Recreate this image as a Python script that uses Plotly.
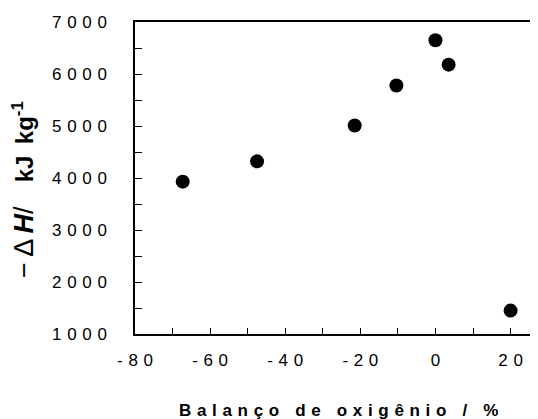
import plotly.graph_objects as go

oxygen_balance = [-67.3, -47.5, -21.5, -10.4, 0.0, 3.5, 20.0]
enthalpy = [3930, 4320, 5010, 5780, 6650, 6180, 1450]

x_ticks = [-80, -60, -40, -20, 0, 20]
y_ticks = [1000, 2000, 3000, 4000, 5000, 6000, 7000]

SP = "\u2004"

def spaced(s):
    return SP.join(list(s))

font_family = "Liberation Sans, Arial, sans-serif"

# page body has an 8px margin, so figure coords = window coords - 8
OFF = 8
W, H = 538 - OFF, 419 - OFF
L, T, B_AX = 135 - OFF, 22 - OFF, 334 - OFF
PW, PH = W - L, B_AX - T

x_title = "<b>" + (SP + " " + SP).join(spaced(w) for w in ["Balanço", "de", "oxigênio", "/", "%"]) + "</b>"
y_title = ("<span style='font-size:27px'>−" + "\u2009" + "Δ" + "\u2009" + "<i><b>H</b></i>/</span>"
           + "\u2003" + "<b>kJ" + "\u2009" + " kg<sup>-1</sup></b>")

fig = go.Figure()
fig.add_trace(go.Scatter(
    x=oxygen_balance, y=enthalpy, mode="markers",
    marker=dict(color="black", size=14, line=dict(width=0)),
    showlegend=False,
))

fig.update_layout(
    width=W, height=H,
    margin=dict(l=L, r=0, t=T, b=H - B_AX, autoexpand=False),
    plot_bgcolor="white", paper_bgcolor="white",
    font=dict(family=font_family, color="black"),
    xaxis=dict(
        range=[-80, 27.3], showgrid=False, zeroline=False,
        showline=True, linecolor="black", linewidth=1.5, mirror=True,
        ticks="inside", ticklen=6, tickwidth=1.3, tickcolor="black",
        tickvals=x_ticks, ticktext=[spaced(str(v)) for v in x_ticks],
        tickfont=dict(size=17, family=font_family),
        ticklabelstandoff=10,
        minor=dict(dtick=10, tick0=-80, ticks="inside", ticklen=6, tickwidth=1.3, tickcolor="black"),
    ),
    yaxis=dict(
        range=[1000, 7000], showgrid=False, zeroline=False,
        showline=True, linecolor="black", linewidth=1.5,
        ticks="inside", ticklen=7, tickwidth=1.3, tickcolor="black",
        tickvals=y_ticks, ticktext=[spaced(str(v)) for v in y_ticks],
        tickfont=dict(size=17, family=font_family),
        ticklabelstandoff=23,
        minor=dict(dtick=500, tick0=1000, ticks="inside", ticklen=7, tickwidth=1.3, tickcolor="black"),
    ),
    annotations=[
        dict(
            text=x_title,
            xref="paper", yref="paper",
            x=(338 - 135) / PW, y=-(410 - 334) / PH,
            xanchor="center", yanchor="middle", showarrow=False,
            font=dict(size=17, family=font_family),
        ),
        dict(
            text=y_title,
            xref="paper", yref="paper",
            x=-(135 - 23) / PW, y=(334 - 190) / PH,
            xanchor="center", yanchor="middle", showarrow=False,
            textangle=-90,
            font=dict(size=24, family=font_family),
        ),
    ],
)

fig.write_html("out.html")
